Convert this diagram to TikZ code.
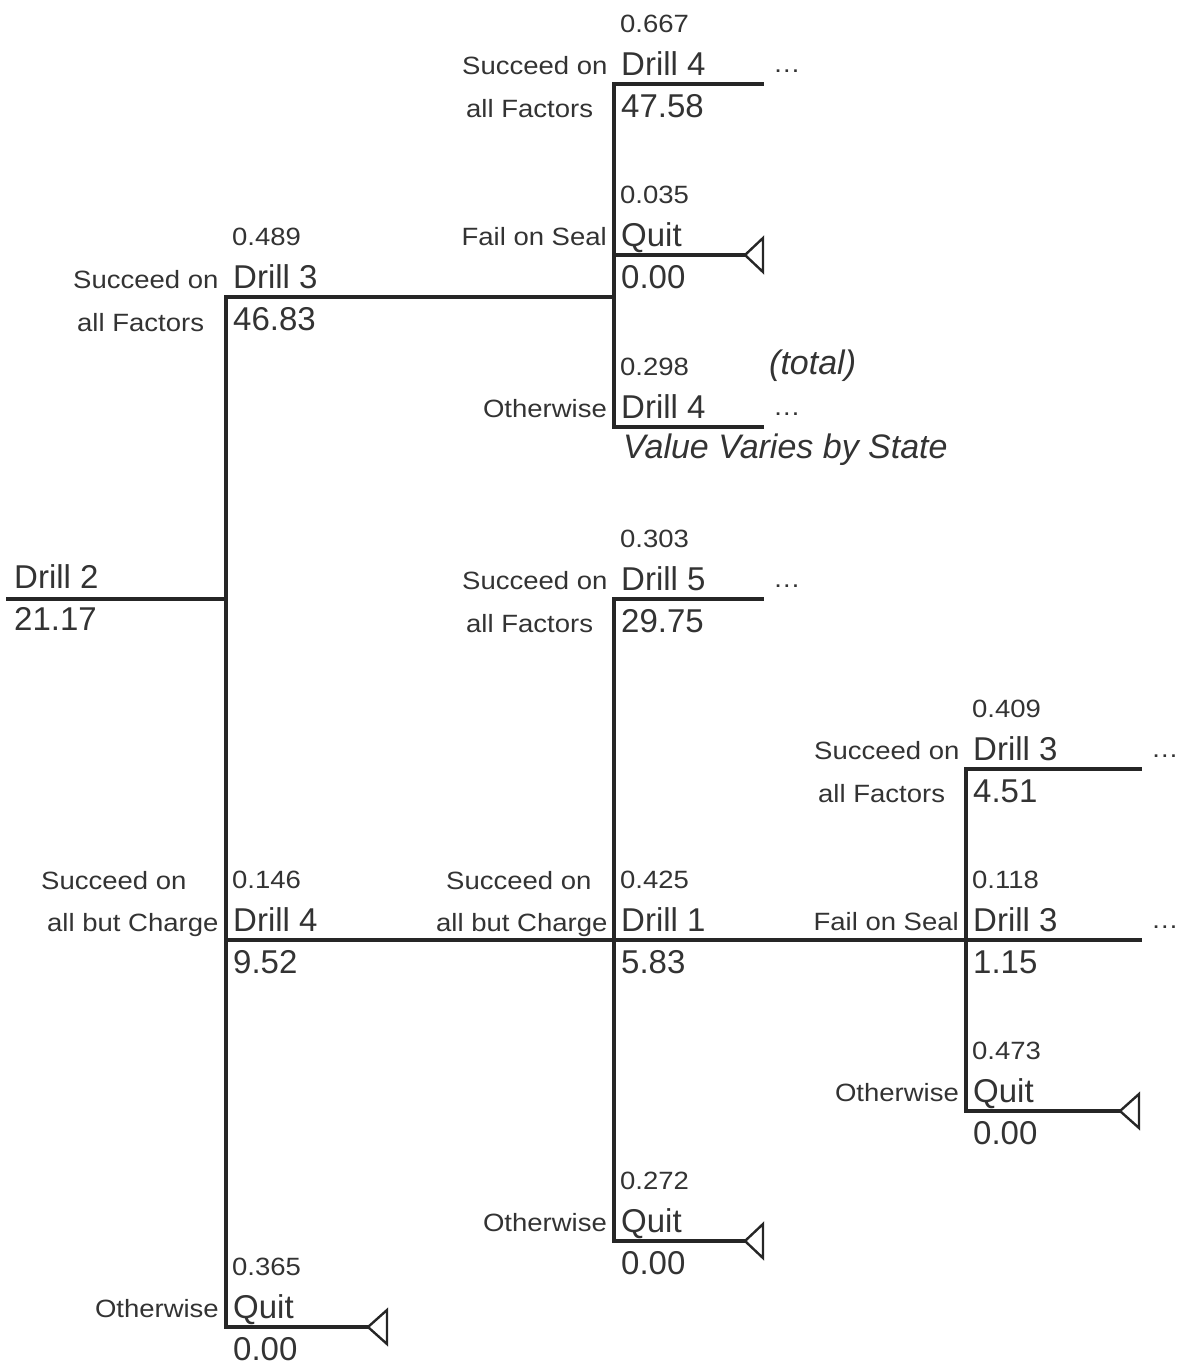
\documentclass[tikz,border=0pt]{standalone}
\usepackage{fontspec}
\setmainfont{Liberation Sans}
\newfontfamily\smallfam[FakeStretch=1.1]{Liberation Sans}
\usetikzlibrary{calc}
\definecolor{ink}{HTML}{333333}
\definecolor{linec}{HTML}{262626}
\tikzset{
 edge/.style={draw=linec,line width=3.2pt,line cap=rect},
 tri/.style={draw=linec,line width=2.4pt,line join=miter},
 sm/.style={font=\smallfam\fontsize{25}{30}\selectfont,text=ink,inner sep=0pt},
 lg/.style={font=\fontsize{33}{40}\selectfont,text=ink,inner sep=0pt},
 lgi/.style={font=\fontsize{34}{40}\selectfont\itshape,text=ink,inner sep=0pt},
}
\newcommand\mybranch[6]{%
 \node[sm,anchor=base west] (#1-p) at ({#2+6},{#3-52}) {#4};
 \node[lg,anchor=base west] (#1-n) at ({#2+7},{#3-9}) {#5};
 \node[lg,anchor=base west] (#1-v) at ({#2+7},{#3+33}) {#6};}
\begin{document}
\begin{tikzpicture}[x=1pt,y=-1pt]
\useasboundingbox (0,0) rectangle (1193,1366);
% coordinates
\coordinate (R0) at (8,599);
\coordinate (C1) at (226,599);
\coordinate (V1top) at (226,297);
\coordinate (V1bot) at (226,1327);
\coordinate (C1b) at (226,940);
\coordinate (E1) at (614,297);
\coordinate (V2top) at (614,84);
\coordinate (V2mid) at (614,255);
\coordinate (V2bot) at (614,427);
\coordinate (T1) at (762,84);
\coordinate (T2) at (745,255);
\coordinate (T3) at (762,427);
\coordinate (E2) at (614,940);
\coordinate (V3top) at (614,599);
\coordinate (V3bot) at (614,1241);
\coordinate (T4) at (762,599);
\coordinate (T5) at (745,1241);
\coordinate (E3) at (966,940);
\coordinate (V4top) at (966,769);
\coordinate (V4bot) at (966,1111);
\coordinate (T6) at (1140,769);
\coordinate (T7) at (1140,940);
\coordinate (T8) at (1120,1111);
\coordinate (T9) at (368,1327);
% connectors
\draw[edge] (R0) -- (C1);
\draw[edge] (V1top) -- (V1bot);
\draw[edge] (V1top) -- (E1);
\draw[edge] (V2top) -- (V2bot);
\draw[edge] (V2top) -- (T1);
\draw[edge] (V2mid) -- (T2);
\draw[edge] (V2bot) -- (T3);
\draw[edge] (C1b) -- (E2) -- (E3) -- (T7);
\draw[edge] (V3top) -- (V3bot);
\draw[edge] (V3top) -- (T4);
\draw[edge] (V3bot) -- (T5);
\draw[edge] (V4top) -- (V4bot);
\draw[edge] (V4top) -- (T6);
\draw[edge] (V4bot) -- (T8);
\draw[edge] (V1bot) -- (T9);
% terminal triangles
\draw[tri] (T2) -- ++(18,-17) -- ++(0,34) -- cycle;
\draw[tri] (T5) -- ++(18,-17) -- ++(0,34) -- cycle;
\draw[tri] (T8) -- ++(19,-17) -- ++(0,34) -- cycle;
\draw[tri] (T9) -- ++(19,-17) -- ++(0,34) -- cycle;
% root
\node[lg,anchor=base west] (root-n) at (14,588) {Drill 2};
\node[lg,anchor=base west] (root-v) at (14,630) {21.17};
% branches
\mybranch{b1}{226}{297}{0.489}{Drill 3}{46.83}
\node[sm,anchor=base west] (b1-l1) at (73,288) {Succeed on};
\node[sm,anchor=base west] (b1-l2) at (77,331) {all Factors};

\mybranch{b2}{614}{84}{0.667}{Drill 4}{47.58}
\node[sm,anchor=base west] (b2-l1) at (462,74) {Succeed on};
\node[sm,anchor=base west] (b2-l2) at (466,117) {all Factors};
\node[sm,anchor=base west] (b2-d) at (773,72) {…};

\mybranch{b3}{614}{255}{0.035}{Quit}{0.00}
\node[sm,anchor=base east] (b3-l) at (607,245) {Fail on Seal};

\node[sm,anchor=base west] (b4-p) at (620,375) {0.298};
\node[lg,anchor=base west] (b4-n) at (621,418) {Drill 4};
\node[lgi,anchor=base west] (b4-t) at (769,374) {(total)};
\node[lgi,anchor=base west] (b4-v) at (623,458) {Value Varies by State};
\node[sm,anchor=base east] (b4-l) at (607,417) {Otherwise};
\node[sm,anchor=base west] (b4-d) at (773,415) {…};

\mybranch{b5}{614}{599}{0.303}{Drill 5}{29.75}
\node[sm,anchor=base west] (b5-l1) at (462,589) {Succeed on};
\node[sm,anchor=base west] (b5-l2) at (466,632) {all Factors};
\node[sm,anchor=base west] (b5-d) at (773,587) {…};

\mybranch{b6}{226}{940}{0.146}{Drill 4}{9.52}
\node[sm,anchor=base west] (b6-l1) at (41,889) {Succeed on};
\node[sm,anchor=base west] (b6-l2) at (47,931) {all but Charge};

\mybranch{b7}{614}{940}{0.425}{Drill 1}{5.83}
\node[sm,anchor=base west] (b7-l1) at (446,889) {Succeed on};
\node[sm,anchor=base west] (b7-l2) at (436,931) {all but Charge};

\mybranch{b8}{966}{769}{0.409}{Drill 3}{4.51}
\node[sm,anchor=base west] (b8-l1) at (814,759) {Succeed on};
\node[sm,anchor=base west] (b8-l2) at (818,802) {all Factors};
\node[sm,anchor=base west] (b8-d) at (1151,757) {…};

\mybranch{b9}{966}{940}{0.118}{Drill 3}{1.15}
\node[sm,anchor=base east] (b9-l) at (959,930) {Fail on Seal};
\node[sm,anchor=base west] (b9-d) at (1151,928) {…};

\mybranch{b10}{966}{1111}{0.473}{Quit}{0.00}
\node[sm,anchor=base east] (b10-l) at (959,1101) {Otherwise};

\mybranch{b11}{614}{1241}{0.272}{Quit}{0.00}
\node[sm,anchor=base east] (b11-l) at (607,1231) {Otherwise};

\mybranch{b12}{226}{1327}{0.365}{Quit}{0.00}
\node[sm,anchor=base east] (b12-l) at (219,1317) {Otherwise};
\end{tikzpicture}
\end{document}
